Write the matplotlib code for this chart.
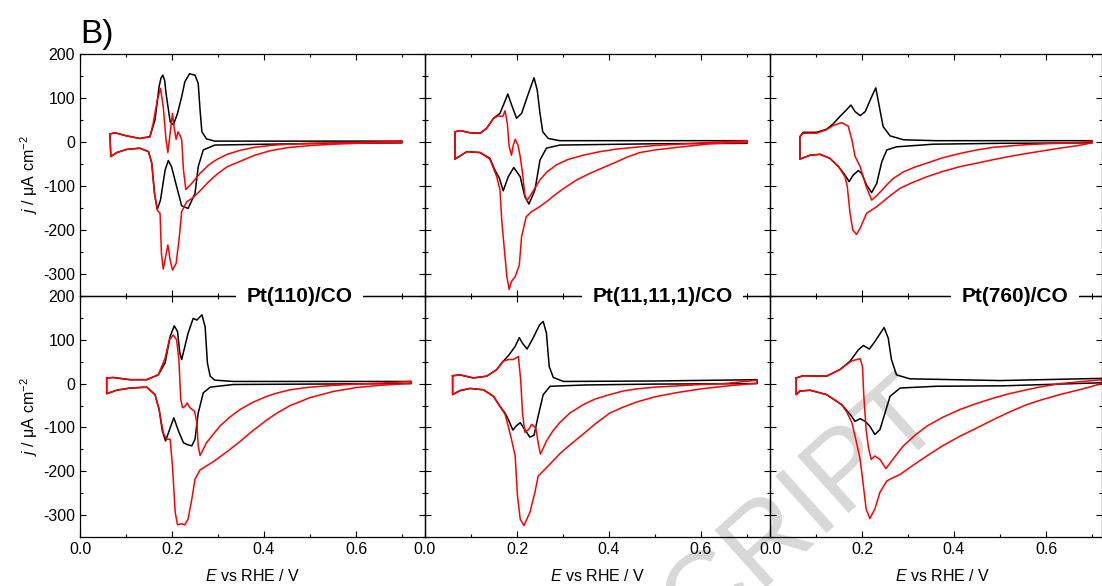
import matplotlib
matplotlib.use('Agg')
import matplotlib.pyplot as plt
from matplotlib.ticker import MultipleLocator

plt.rcParams['font.family'] = ['Liberation Sans', 'DejaVu Sans']
plt.rcParams['mathtext.fontset'] = 'custom'
plt.rcParams['mathtext.rm'] = 'Liberation Sans'
plt.rcParams['mathtext.it'] = 'Liberation Sans:italic'
plt.rcParams['axes.unicode_minus'] = False

titles = ['Pt(110)/CO', 'Pt(11,11,1)/CO', 'Pt(760)/CO']

#### top row, Pt(110) ####
a1_black_E = [0.065, 0.076, 0.101, 0.130, 0.152, 0.163, 0.172, 0.176, 0.180, 0.184, 0.187, 0.196, 0.203, 0.212,
              0.221, 0.228, 0.238, 0.250, 0.257, 0.261, 0.265, 0.275, 0.293, 0.40, 0.55, 0.70,
              0.70, 0.55, 0.406, 0.293, 0.268, 0.257, 0.250, 0.235, 0.221, 0.210, 0.199, 0.192, 0.185, 0.175,
              0.168, 0.162, 0.156, 0.149, 0.130, 0.101, 0.080, 0.067, 0.065]
a1_black_j = [18, 21, 14, 8, 12, 50, 126, 145, 152, 140, 111, 46, 39, 65,
              103, 137, 155, 152, 133, 73, 23, 7, 2, 2, 2, 2,
              -2, -3, -5, -7, -18, -56, -117, -151, -145, -101, -56, -42, -64, -132,
              -153, -117, -48, -22, -14, -17, -24, -33, 18]
a1_red_E = [0.065, 0.076, 0.101, 0.130, 0.152, 0.159, 0.168, 0.175, 0.181, 0.187, 0.191, 0.196, 0.201, 0.205,
            0.209, 0.213, 0.217, 0.221, 0.225, 0.230, 0.243, 0.261, 0.28, 0.297, 0.32, 0.348, 0.38, 0.413,
            0.45, 0.50, 0.55, 0.60, 0.65, 0.70,
            0.70, 0.65, 0.60, 0.55, 0.50, 0.45, 0.413, 0.38, 0.348, 0.32, 0.297, 0.28, 0.261, 0.245, 0.232,
            0.221, 0.216, 0.209, 0.201, 0.196, 0.191, 0.186, 0.181, 0.177, 0.174, 0.168, 0.162, 0.156, 0.149,
            0.130, 0.101, 0.080, 0.067, 0.065]
a1_red_j = [18, 21, 14, 8, 12, 42, 95, 122, 80, 5, -24, 20, 65, 31,
            6, 23, 16, 5, -64, -108, -94, -71, -52, -40, -28, -19, -12, -8,
            -5, -3, -2, -1, 0, 2,
            -1, -2, -3, -5, -8, -13, -20, -30, -44, -56, -74, -90, -111, -127, -136,
            -158, -215, -276, -291, -268, -234, -261, -289, -253, -162, -155, -117, -48, -22,
            -14, -17, -24, -33, 18]

#### bottom row, Pt(110) ####
b1_black_E = [0.058, 0.072, 0.109, 0.145, 0.170, 0.185, 0.196, 0.205, 0.212, 0.217, 0.221, 0.228, 0.235, 0.246,
              0.254, 0.265, 0.272, 0.277, 0.283, 0.293, 0.333, 0.50, 0.72,
              0.72, 0.50, 0.333, 0.283, 0.268, 0.257, 0.250, 0.243, 0.233, 0.225, 0.214, 0.204, 0.196, 0.186,
              0.179, 0.172, 0.163, 0.145, 0.109, 0.080, 0.058, 0.058]
b1_black_j = [13, 14, 9, 9, 20, 47, 108, 132, 119, 70, 55, 85, 115, 149,
              145, 157, 130, 47, 17, 8, 5, 5, 5,
              0, -1, -2, -8, -21, -67, -127, -142, -139, -135, -108, -78, -101, -131,
              -108, -59, -25, -8, -10, -15, -23, 13]
b1_red_E = [0.058, 0.072, 0.109, 0.145, 0.170, 0.185, 0.194, 0.203, 0.210, 0.215, 0.219, 0.223, 0.228, 0.233,
            0.239, 0.249, 0.254, 0.257, 0.261, 0.275, 0.29, 0.304, 0.325, 0.348, 0.375, 0.406, 0.43, 0.457,
            0.50, 0.55, 0.60, 0.65, 0.72,
            0.72, 0.65, 0.60, 0.55, 0.50, 0.457, 0.43, 0.406, 0.375, 0.348, 0.32, 0.29, 0.261, 0.250, 0.243,
            0.235, 0.228, 0.221, 0.212, 0.207, 0.201, 0.196, 0.188, 0.181, 0.172, 0.163, 0.145, 0.109, 0.080,
            0.058, 0.058]
b1_red_j = [13, 14, 9, 9, 20, 58, 100, 111, 100, 55, -36, -55, -52, -44,
            -55, -63, -89, -142, -164, -135, -115, -97, -77, -59, -43, -29, -21, -14,
            -8, -4, -1, 1, 5,
            1, -4, -9, -18, -32, -50, -66, -83, -108, -132, -155, -178, -197, -218, -264,
            -309, -322, -320, -322, -294, -188, -127, -127, -112, -59, -25, -8, -10, -15,
            -23, 13]

#### top row, Pt(11,11,1) ####
a2_black_E = [0.065, 0.076, 0.098, 0.120, 0.134, 0.149, 0.163, 0.172, 0.180, 0.187, 0.199, 0.210, 0.225, 0.237,
              0.244, 0.250, 0.256, 0.268, 0.293, 0.50, 0.70,
              0.70, 0.50, 0.293, 0.264, 0.250, 0.239, 0.226, 0.217, 0.207, 0.193, 0.181, 0.170, 0.162, 0.152,
              0.141, 0.120, 0.091, 0.065, 0.065]
a2_black_j = [23, 26, 21, 20, 31, 54, 65, 88, 109, 88, 54, 65, 111, 146,
              118, 65, 23, 8, 3, 3, 3,
              -3, -4, -7, -14, -41, -109, -141, -124, -79, -58, -79, -111, -83, -64,
              -37, -24, -22, -39, 23]
a2_red_E = [0.065, 0.076, 0.098, 0.120, 0.134, 0.149, 0.159, 0.169, 0.174, 0.179, 0.183, 0.188, 0.192, 0.196,
            0.202, 0.207, 0.212, 0.217, 0.222, 0.232, 0.250, 0.265, 0.286, 0.31, 0.344, 0.38, 0.417, 0.467,
            0.50, 0.55, 0.62, 0.70,
            0.70, 0.66, 0.62, 0.55, 0.50, 0.467, 0.44, 0.417, 0.39, 0.359, 0.33, 0.308, 0.285, 0.264, 0.245,
            0.232, 0.220, 0.210, 0.205, 0.196, 0.188, 0.183, 0.178, 0.172, 0.167, 0.163, 0.156, 0.149, 0.141,
            0.120, 0.091, 0.065, 0.065]
a2_red_j = [23, 26, 21, 20, 31, 54, 59, 58, 71, 42, -11, -30, -7, 6,
            -7, -33, -71, -120, -133, -117, -86, -68, -52, -40, -30, -22, -16, -11,
            -8, -5, -1, 3,
            -1, -2, -4, -12, -18, -24, -34, -45, -57, -71, -86, -101, -118, -136, -150,
            -158, -170, -215, -280, -306, -317, -335, -306, -238, -181, -109, -79, -60, -39,
            -24, -22, -39, 23]

#### bottom row, Pt(11,11,1) ####
b2_black_E = [0.060, 0.076, 0.105, 0.134, 0.156, 0.170, 0.183, 0.196, 0.205, 0.212, 0.222, 0.235, 0.249, 0.257,
              0.264, 0.270, 0.279, 0.301, 0.50, 0.722,
              0.722, 0.50, 0.35, 0.272, 0.257, 0.246, 0.237, 0.228, 0.217, 0.207, 0.198, 0.191, 0.183, 0.174,
              0.163, 0.149, 0.127, 0.098, 0.076, 0.060, 0.060]
b2_black_j = [18, 20, 13, 17, 32, 51, 66, 85, 105, 92, 79, 104, 134, 142,
              115, 39, 14, 5, 6, 9,
              0, -1, -3, -6, -25, -74, -118, -122, -105, -89, -97, -106, -86, -67,
              -52, -29, -14, -11, -16, -25, 18]
b2_red_E = [0.060, 0.076, 0.105, 0.134, 0.156, 0.170, 0.181, 0.192, 0.203, 0.208, 0.212, 0.217, 0.225, 0.232,
            0.241, 0.246, 0.251, 0.264, 0.278, 0.293, 0.315, 0.344, 0.37, 0.402, 0.43, 0.460, 0.50, 0.55,
            0.60, 0.65, 0.722,
            0.722, 0.68, 0.65, 0.60, 0.55, 0.50, 0.46, 0.43, 0.402, 0.37, 0.344, 0.315, 0.293, 0.275, 0.261,
            0.246, 0.239, 0.228, 0.215, 0.207, 0.201, 0.196, 0.188, 0.181, 0.174, 0.163, 0.149, 0.127, 0.098,
            0.076, 0.060, 0.060]
b2_red_j = [18, 20, 13, 17, 32, 51, 55, 55, 62, 9, -67, -111, -105, -93,
            -101, -135, -161, -131, -108, -89, -67, -48, -35, -25, -17, -12, -8, -5,
            -2, 0, 8,
            1, -3, -6, -12, -20, -30, -42, -54, -67, -92, -115, -140, -160, -180, -195,
            -211, -248, -294, -324, -309, -256, -165, -127, -97, -70, -52, -29, -14, -11,
            -16, -25, 18]

#### top row, Pt(760) ####
a3_black_E = [0.065, 0.072, 0.101, 0.123, 0.138, 0.152, 0.167, 0.176, 0.185, 0.196, 0.207, 0.221, 0.230, 0.239,
              0.246, 0.261, 0.290, 0.36, 0.50, 0.70,
              0.70, 0.50, 0.355, 0.275, 0.254, 0.243, 0.232, 0.221, 0.210, 0.199, 0.192, 0.181, 0.172, 0.163,
              0.149, 0.130, 0.109, 0.087, 0.065, 0.065]
a3_black_j = [12, 22, 22, 29, 42, 58, 74, 84, 69, 60, 69, 103, 123, 73,
              35, 14, 5, 3, 3, 3,
              -2, -3, -5, -11, -18, -45, -94, -115, -98, -71, -65, -75, -90, -75,
              -56, -37, -28, -30, -39, 12]
a3_red_E = [0.065, 0.072, 0.101, 0.123, 0.138, 0.156, 0.170, 0.178, 0.185, 0.196, 0.209, 0.221, 0.232, 0.243,
            0.255, 0.268, 0.29, 0.315, 0.341, 0.375, 0.413, 0.45, 0.486, 0.52, 0.558, 0.60, 0.630, 0.67, 0.70,
            0.70, 0.67, 0.630, 0.60, 0.558, 0.52, 0.486, 0.45, 0.413, 0.375, 0.341, 0.31, 0.283, 0.26, 0.245,
            0.232, 0.210, 0.196, 0.188, 0.180, 0.174, 0.168, 0.163, 0.149, 0.130, 0.109, 0.087, 0.065, 0.065]
a3_red_j = [12, 20, 20, 28, 38, 44, 36, 5, -33, -56, -101, -132, -122, -110,
            -96, -83, -68, -57, -48, -36, -26, -18, -12, -9, -6, -4, -3, -1, 2,
            -2, -8, -14, -19, -26, -33, -40, -48, -56, -67, -79, -92, -105, -123, -136,
            -147, -162, -196, -210, -200, -162, -101, -79, -56, -37, -28, -30, -39, 12]

#### bottom row, Pt(760) ####
b3_black_E = [0.057, 0.072, 0.123, 0.152, 0.174, 0.192, 0.203, 0.216, 0.228, 0.248, 0.257, 0.264, 0.275, 0.304,
              0.50, 0.721,
              0.721, 0.507, 0.362, 0.283, 0.261, 0.250, 0.239, 0.228, 0.217, 0.207, 0.196, 0.185, 0.174, 0.156,
              0.123, 0.087, 0.065, 0.057, 0.057]
b3_black_j = [13, 18, 17, 32, 51, 77, 87, 79, 96, 128, 104, 55, 20, 11,
              7, 12,
              2, -5, -6, -10, -29, -67, -105, -116, -97, -86, -80, -86, -70, -48,
              -25, -15, -17, -25, 13]
b3_red_E = [0.057, 0.072, 0.123, 0.152, 0.159, 0.178, 0.196, 0.201, 0.204, 0.209, 0.214, 0.220, 0.228, 0.239,
            0.252, 0.264, 0.275, 0.290, 0.315, 0.341, 0.375, 0.413, 0.45, 0.486, 0.52, 0.558, 0.59, 0.630,
            0.67, 0.721,
            0.721, 0.68, 0.630, 0.59, 0.558, 0.52, 0.486, 0.45, 0.413, 0.375, 0.341, 0.31, 0.283, 0.265, 0.254,
            0.239, 0.228, 0.217, 0.209, 0.203, 0.196, 0.185, 0.178, 0.167, 0.156, 0.123, 0.087, 0.065, 0.057,
            0.057]
b3_red_j = [13, 18, 17, 32, 38, 52, 57, 39, -29, -105, -146, -173, -165, -173,
            -194, -177, -162, -142, -118, -97, -77, -59, -45, -33, -23, -14, -7, 0,
            4, 9,
            0, -12, -25, -37, -48, -65, -82, -101, -120, -142, -165, -187, -207, -216, -222,
            -248, -286, -308, -286, -233, -173, -120, -89, -65, -48, -25, -15, -17, -25,
            13]

top_curves = [(a1_black_E, a1_black_j, a1_red_E, a1_red_j),
              (a2_black_E, a2_black_j, a2_red_E, a2_red_j),
              (a3_black_E, a3_black_j, a3_red_E, a3_red_j)]
bottom_curves = [(b1_black_E, b1_black_j, b1_red_E, b1_red_j),
                 (b2_black_E, b2_black_j, b2_red_E, b2_red_j),
                 (b3_black_E, b3_black_j, b3_red_E, b3_red_j)]

W, H = 1102, 586
fig = plt.figure(figsize=(W / 100, H / 100), dpi=100)

# watermark behind everything
fig.text(948 / W, 1 - 424 / H, 'ACCEPTED MANUSCRIPT', fontsize=80, color='#d8d8d8',
         rotation=42, rotation_mode='anchor', ha='right', va='baseline', zorder=-1)

col_left = [80, 425, 770]
col_width = [345, 345, 332]
rows = [(54, 296), (296, 537)]
px_per_V = 460

for r, (ytop, ybot) in enumerate(rows):
    curves = top_curves if r == 0 else bottom_curves
    for c in range(3):
        ax = fig.add_axes([col_left[c] / W, 1 - ybot / H, col_width[c] / W, (ybot - ytop) / H])
        ax.set_facecolor('none')
        bE, bj, rE, rj = curves[c]
        ax.plot(bE, bj, color='black', lw=1.1)
        ax.plot(rE, rj, color='red', lw=1.1)
        ax.set_xlim(0, col_width[c] / px_per_V)
        ax.set_ylim(-350, 200)
        ax.xaxis.set_major_locator(MultipleLocator(0.2))
        ax.xaxis.set_minor_locator(MultipleLocator(0.1))
        ax.yaxis.set_major_locator(MultipleLocator(100))
        ax.yaxis.set_minor_locator(MultipleLocator(50))
        ax.tick_params(which='both', direction='in', top=True, right=True, labelsize=11.5, width=0.8)
        ax.tick_params(which='major', length=4)
        ax.tick_params(which='minor', length=2.5)
        for s in ax.spines.values():
            s.set_linewidth(0.9)
        if c > 0:
            ax.tick_params(labelleft=False)
        else:
            ax.set_ylabel(r'$j$ / μA cm$^{-2}$', fontsize=11.5, labelpad=2)
        if r == 0:
            ax.tick_params(labelbottom=False)
        else:
            ax.set_xlabel(r'$E$ vs RHE / V', fontsize=11.5)
            ax.xaxis.set_label_coords(0.375 * px_per_V / col_width[c], -0.128)
            xpos = [0.478, 0.516, 0.533][c]
            fig.text(xpos, 200, titles[c], transform=ax.transData, fontsize=15, fontweight='bold',
                     ha='center', va='center', zorder=5,
                     bbox=dict(boxstyle='square,pad=0.5', fc='white', ec='none'))

fig.text(80 / W, 1 - 43 / H, 'B)', fontsize=24, va='baseline', ha='left')

plt.savefig('out.png', dpi=100)
